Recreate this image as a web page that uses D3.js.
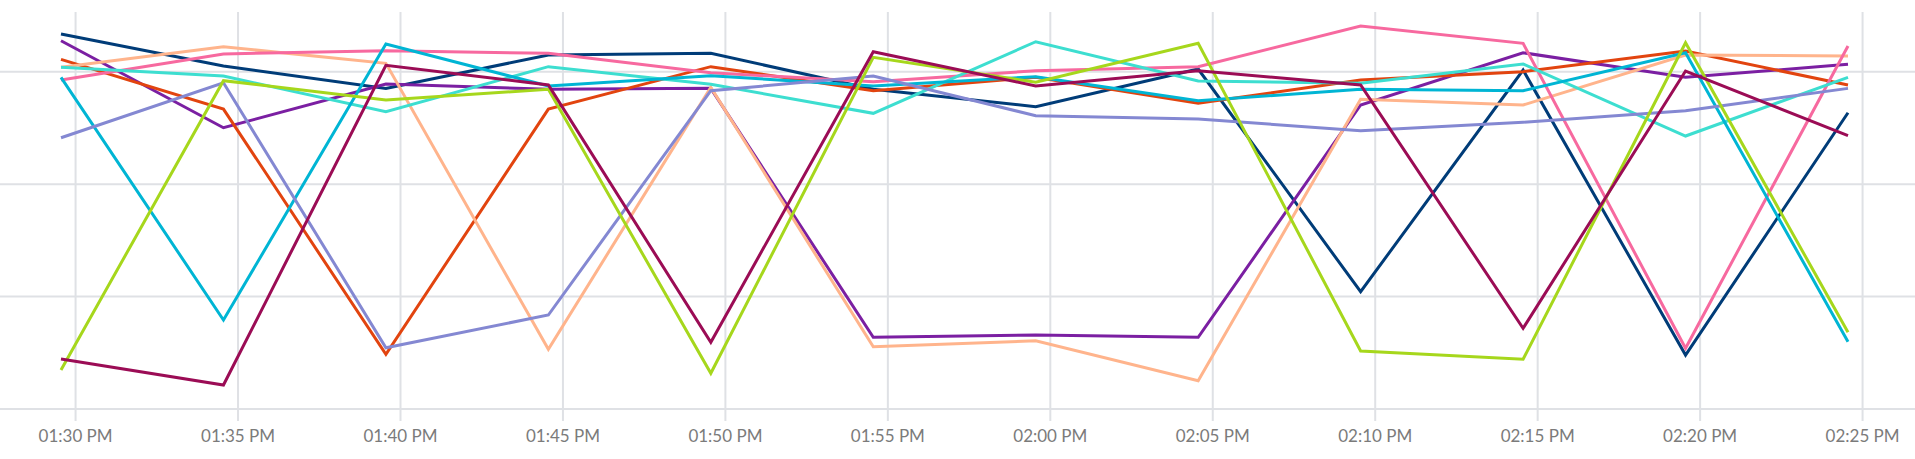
<!DOCTYPE html>
<html>
<head>
<meta charset="utf-8">
<script src="https://cdn.jsdelivr.net/npm/d3@7"></script>
<style>
  html, body { margin: 0; padding: 0; background: #fff; }
  #chart { width: 1915px; height: 459px; }
  .tick-label { font-family: Lato, "Open Sans", sans-serif; font-size: 17px; fill: #7b7b7b; }
</style>
</head>
<body>
<div id="chart"></div>
<script>
// sample times (every 5 minutes)
var times = ["13:29:34", "13:34:34", "13:39:34", "13:44:34", "13:49:34", "13:54:34",
             "13:59:34", "14:04:34", "14:09:34", "14:14:34", "14:19:34", "14:24:34"];

var tickTimes = ["13:30", "13:35", "13:40", "13:45", "13:50", "13:55",
                 "14:00", "14:05", "14:10", "14:15", "14:20", "14:25"];

var yTicks = [0, 100, 200, 300];

var seriesNames = ["navy", "purple", "orange", "peach", "pink", "turquoise", "cyan", "lavender", "lime", "maroon"];
var seriesColors = ["#003c78", "#7b1fa2", "#e2440f", "#ffb48c", "#f7699f", "#3dded0", "#00b5d4", "#8488d2", "#a6d71c", "#9b0c55"];

var navy      = [333.5, 305.1, 285.2, 314.9, 316.4, 284.4, 268.9, 302.4, 104.3, 301.5, 48.0, 263.5];
var purple    = [327.6, 250.2, 289.1, 284.4, 285.2, 63.8, 65.8, 63.8, 270.4, 316.9, 295.0, 306.6];
var orange    = [311.0, 266.8, 48.7, 266.8, 304.5, 283.1, 295.0, 271.9, 292.6, 300.0, 318.4, 288.2];
var peach     = [303.9, 322.2, 307.5, 53.1, 286.1, 55.4, 60.7, 25.2, 275.5, 270.4, 314.9, 314.0];
var pink      = [292.6, 315.8, 318.7, 316.4, 299.1, 291.1, 300.9, 304.5, 340.7, 325.3, 54.0, 322.9];
var turquoise = [303.9, 296.2, 264.4, 304.5, 288.8, 263.0, 326.7, 291.7, 289.7, 306.9, 242.8, 295.0];
var cyan      = [295.0, 79.2, 324.6, 287.3, 296.5, 287.3, 295.6, 274.2, 284.4, 283.1, 316.9, 59.9];
var lavender  = [241.3, 290.2, 54.5, 83.6, 283.1, 296.2, 260.9, 257.9, 247.5, 255.0, 265.3, 285.2];
var lime      = [34.7, 292.0, 274.8, 284.4, 31.8, 312.8, 290.6, 325.3, 51.6, 44.2, 325.8, 68.2];
var maroon    = [44.5, 21.3, 305.7, 288.2, 59.3, 317.8, 287.3, 300.9, 288.2, 71.8, 300.6, 243.1];

var seriesValues = [navy, purple, orange, peach, pink, turquoise, cyan, lavender, lime, maroon];

function init() {
    var w = 1915;
    var h = 459;
    var plotBottom = 409;

    var parseT = d3.timeParse("%H:%M:%S");
    var parseTick = d3.timeParse("%H:%M");
    var dates = times.map(parseT);
    var tickDates = tickTimes.map(parseTick);

    var x = d3.scaleTime()
        .domain([dates[0], dates[dates.length - 1]])
        .range([61, 1848]);

    var y = d3.scaleLinear()
        .domain([0, 363.8])
        .range([plotBottom, 0]);

    var svg = d3.select("#chart")
        .append("svg")
        .attr("width", w)
        .attr("height", h);

    // horizontal grid
    svg.append("g")
        .selectAll("line")
        .data(yTicks)
        .enter()
        .append("line")
        .attr("x1", 0)
        .attr("x2", w)
        .attr("y1", function (d) { return y(d); })
        .attr("y2", function (d) { return y(d); })
        .attr("stroke", "#dfe1e5")
        .attr("stroke-width", 2);

    // vertical grid + x axis
    var xAxis = d3.axisBottom(x)
        .tickValues(tickDates)
        .tickSize(-plotBottom)
        .tickSizeOuter(0)
        .tickPadding(18)
        .tickFormat(d3.timeFormat("%I:%M %p"));

    var gx = svg.append("g")
        .attr("transform", "translate(0," + (plotBottom + 12) + ")")
        .call(xAxis);
    gx.select(".domain").remove();
    gx.selectAll(".tick line")
        .attr("stroke", "#dfe1e5")
        .attr("stroke-width", 2);
    gx.selectAll(".tick text")
        .attr("class", "tick-label")
        .attr("dy", "0.2em")
        .attr("font-family", null)
        .attr("font-size", null)
        .attr("fill", null);

    var line = d3.line()
        .x(function (d, i) { return x(dates[i]); })
        .y(function (d) { return y(d); });

    svg.append("g")
        .selectAll("path")
        .data(seriesValues)
        .enter()
        .append("path")
        .attr("d", line)
        .attr("fill", "none")
        .attr("stroke", function (d, i) { return seriesColors[i]; })
        .attr("stroke-width", 3)
        .attr("stroke-linejoin", "miter");
}
window.onload = init;
</script>
</body>
</html>
